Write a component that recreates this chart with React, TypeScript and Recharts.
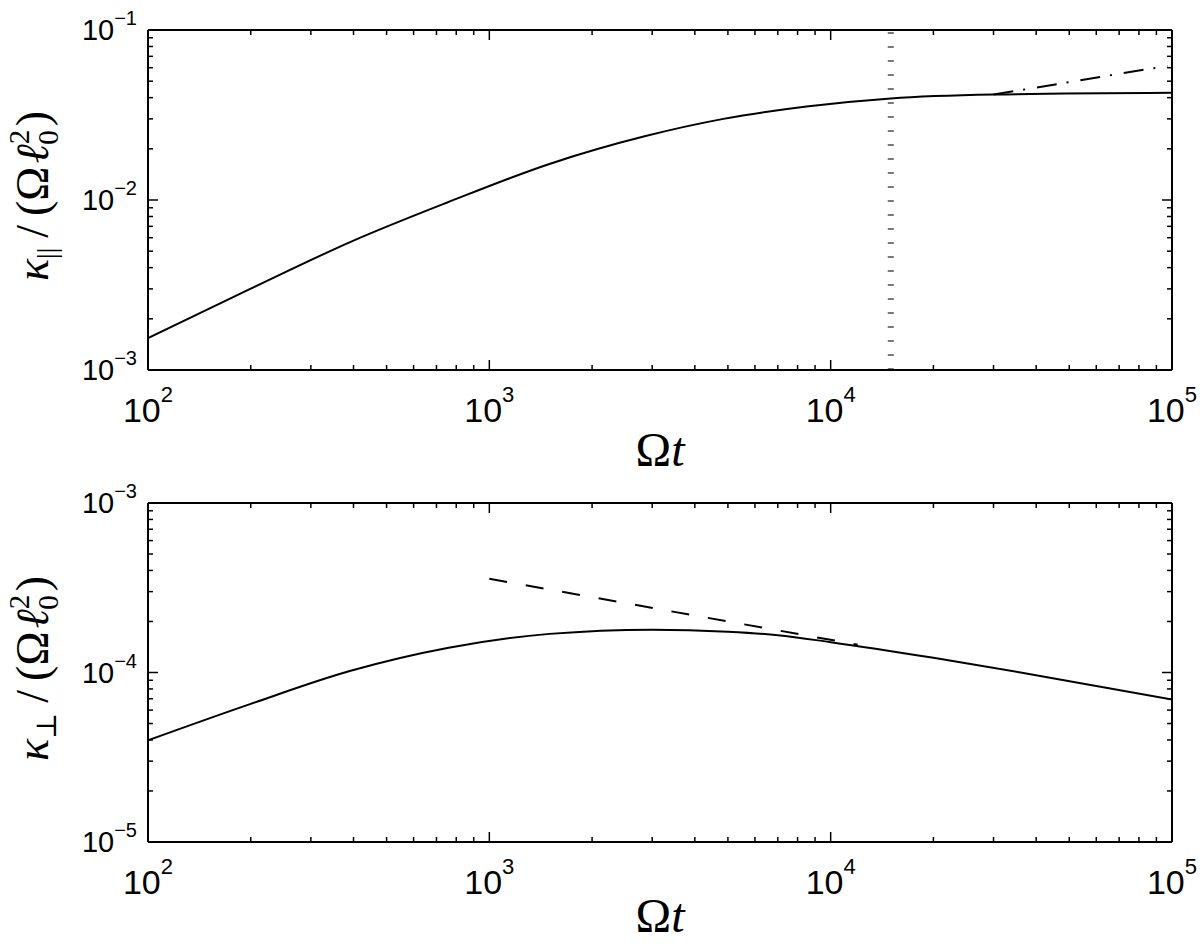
import { LineChart, Line, XAxis, YAxis, ReferenceLine } from 'recharts';

// tick values (log axes, decades + minor ticks)
const OMEGA_T_TICKS = [
  100, 200, 300, 400, 500, 600, 700, 800, 900,
  1000, 2000, 3000, 4000, 5000, 6000, 7000, 8000, 9000,
  10000, 20000, 30000, 40000, 50000, 60000, 70000, 80000, 90000,
  100000,
];
const PAR_TICKS = [
  0.001, 0.002, 0.003, 0.004, 0.005, 0.006, 0.007, 0.008, 0.009,
  0.01, 0.02, 0.03, 0.04, 0.05, 0.06, 0.07, 0.08, 0.09,
  0.1,
];
const PERP_TICKS = [
  1e-5, 2e-5, 3e-5, 4e-5, 5e-5, 6e-5, 7e-5, 8e-5, 9e-5,
  1e-4, 2e-4, 3e-4, 4e-4, 5e-4, 6e-4, 7e-4, 8e-4, 9e-4,
  1e-3,
];

// kappa_parallel
const PAR_T = [100, 200, 400, 750, 1500, 2850, 4850, 8500, 15000, 30000, 100000];
const PAR_K = [1.54e-3, 3.01e-3, 5.77e-3, 9.64e-3, 1.63e-2, 2.37e-2, 3.0e-2, 3.55e-2, 3.96e-2, 4.17e-2, 4.27e-2];
const PAR_FIT_T = [30000, 97000];
const PAR_FIT_K = [4.17e-2, 6.15e-2];
const PAR_MARK_T = 15000;

// kappa_perp
const PERP_T = [100, 200, 390, 760, 1500, 3000, 5000, 7000, 10000, 20000, 36000, 100000];
const PERP_K = [3.98e-5, 6.53e-5, 1.02e-4, 1.4e-4, 1.69e-4, 1.79e-4, 1.74e-4, 1.66e-4, 1.51e-4, 1.22e-4, 1.0e-4, 6.93e-5];
const PERP_FIT_T = [1000, 12000];
const PERP_FIT_K = [3.57e-4, 1.46e-4];

const toRows = (ts: number[], ks: number[]) => ts.map((t, i) => ({ t, k: ks[i] }));

const SANS = '"Liberation Sans", Arial, Helvetica, sans-serif';
const SERIF = '"Liberation Serif", "DejaVu Serif", "Times New Roman", serif';

const isDecade = (v: number) => Math.abs(Math.log10(v) - Math.round(Math.log10(v))) < 1e-6;
const expText = (v: number) => {
  const n = Math.round(Math.log10(v));
  return n < 0 ? `\u2212${-n}` : `${n}`;
};
const tickLen = (v: number) => (isDecade(v) ? 10 : 5);

const BottomTick = (props: any) => {
  const { x, y, payload } = props;
  const v = payload.value;
  return (
    <g>
      <line x1={x} y1={y} x2={x} y2={y - tickLen(v)} stroke="#000" strokeWidth={1.5} />
      {isDecade(v) && (
        <text x={x} y={y + 52} textAnchor="middle" fontFamily={SANS} fontSize={34} fill="#000">
          10<tspan dy={-20} fontSize={22}>{expText(v)}</tspan>
        </text>
      )}
    </g>
  );
};

const TopTick = (props: any) => {
  const { x, y, payload } = props;
  return <line x1={x} y1={y} x2={x} y2={y + tickLen(payload.value)} stroke="#000" strokeWidth={1.5} />;
};

const LeftTick = (props: any) => {
  const { x, y, payload } = props;
  const v = payload.value;
  return (
    <g>
      <line x1={x} y1={y} x2={x + tickLen(v)} y2={y} stroke="#000" strokeWidth={1.5} />
      {isDecade(v) && (
        <text x={x - 11} y={y + 10} textAnchor="end" fontFamily={SANS} fontSize={29} fill="#000">
          10<tspan dy={-15} fontSize={20}>{expText(v)}</tspan>
        </text>
      )}
    </g>
  );
};

const RightTick = (props: any) => {
  const { x, y, payload } = props;
  return <line x1={x} y1={y} x2={x - tickLen(payload.value)} y2={y} stroke="#000" strokeWidth={1.5} />;
};

const xTitle = (offset: number) => (props: any) => {
  const { viewBox } = props;
  return (
    <text
      x={viewBox.x + viewBox.width / 2}
      y={viewBox.y + offset}
      textAnchor="middle"
      fontFamily={SERIF}
      fontSize={48}
      fill="#000"
    >
      Ω<tspan fontStyle="italic">t</tspan>
    </text>
  );
};

const yTitle = (sub: string) => (props: any) => {
  const { viewBox } = props;
  const cx = 48;
  const cy = viewBox.y + viewBox.height / 2 - 4;
  return (
    <text
      x={cx}
      y={cy}
      transform={`rotate(-90 ${cx} ${cy})`}
      textAnchor="middle"
      fontFamily={SERIF}
      fontSize={46}
      fill="#000"
    >
      <tspan fontStyle="italic">κ</tspan>
      <tspan fontSize={28} dy={8}>{sub}</tspan>
      <tspan dy={-8} dx={10}>/</tspan>
      <tspan dx={9}>(Ω</tspan>
      <tspan fontStyle="italic" dx={3}>ℓ</tspan>
      <tspan fontSize={29} dy={-19}>2</tspan>
      <tspan fontSize={29} dx={-15} dy={29}>0</tspan>
      <tspan dy={-10} dx={4}>)</tspan>
    </text>
  );
};

const axisLine = { stroke: '#000', strokeWidth: 2 };
const X_DOMAIN = [100, 100000];

export default function App() {
  const parRows = toRows(PAR_T, PAR_K);
  const parFit = toRows(PAR_FIT_T, PAR_FIT_K);
  const perpRows = toRows(PERP_T, PERP_K);
  const perpFit = toRows(PERP_FIT_T, PERP_FIT_K);

  // axes are 1px thick so recharts still draws them; margins make up the rest
  const xAxes = (titleOffset: number) => [
    <XAxis
      key="xb"
      dataKey="t"
      type="number"
      scale="log"
      domain={X_DOMAIN}
      ticks={OMEGA_T_TICKS}
      interval={0}
      allowDataOverflow
      height={1}
      tickSize={0}
      tickMargin={0}
      tickLine={false}
      axisLine={axisLine}
      tick={<BottomTick />}
      label={xTitle(titleOffset)}
    />,
    <XAxis
      key="xt"
      xAxisId="top"
      orientation="top"
      dataKey="t"
      type="number"
      scale="log"
      domain={X_DOMAIN}
      ticks={OMEGA_T_TICKS}
      interval={0}
      allowDataOverflow
      height={1}
      tickSize={0}
      tickMargin={0}
      tickLine={false}
      axisLine={axisLine}
      tick={<TopTick />}
    />,
  ];

  const yAxes = (domain: number[], ticks: number[], sub: string) => [
    <YAxis
      key="yl"
      dataKey="k"
      type="number"
      scale="log"
      domain={domain}
      ticks={ticks}
      interval={0}
      allowDataOverflow
      width={1}
      tickSize={0}
      tickMargin={0}
      tickLine={false}
      axisLine={axisLine}
      tick={<LeftTick />}
      label={yTitle(sub)}
    />,
    <YAxis
      key="yr"
      yAxisId="right"
      orientation="right"
      dataKey="k"
      type="number"
      scale="log"
      domain={domain}
      ticks={ticks}
      interval={0}
      allowDataOverflow
      width={1}
      tickSize={0}
      tickMargin={0}
      tickLine={false}
      axisLine={axisLine}
      tick={<RightTick />}
    />,
  ];

  return (
    <div style={{ position: 'absolute', left: 0, top: 0, width: 1200, height: 944, background: '#fff', overflow: 'hidden' }}>
      {/* kappa parallel */}
      <div style={{ position: 'absolute', left: 0, top: 0 }}>
        <LineChart width={1200} height={484} margin={{ top: 29, right: 27, bottom: 113, left: 147 }}>
          {xAxes(96)}
          {yAxes([0.001, 0.1], PAR_TICKS, '||')}
          <ReferenceLine x={PAR_MARK_T} stroke="#777" strokeWidth={6} strokeDasharray="2 12" />
          <Line
            data={parRows}
            dataKey="k"
            type="monotone"
            stroke="#000"
            strokeWidth={2}
            dot={false}
            activeDot={false}
            isAnimationActive={false}
          />
          <Line
            data={parFit}
            dataKey="k"
            type="linear"
            stroke="#000"
            strokeWidth={2}
            strokeDasharray="20 10 2 12"
            dot={false}
            activeDot={false}
            isAnimationActive={false}
          />
        </LineChart>
      </div>

      {/* kappa perp */}
      <div style={{ position: 'absolute', left: 0, top: 472 }}>
        <LineChart width={1200} height={472} margin={{ top: 30, right: 27, bottom: 101, left: 147 }}>
          {xAxes(90)}
          {yAxes([1e-5, 1e-3], PERP_TICKS, '⊥')}
          <Line
            data={perpRows}
            dataKey="k"
            type="monotone"
            stroke="#000"
            strokeWidth={2}
            dot={false}
            activeDot={false}
            isAnimationActive={false}
          />
          <Line
            data={perpFit}
            dataKey="k"
            type="linear"
            stroke="#000"
            strokeWidth={2}
            strokeDasharray="18 19"
            dot={false}
            activeDot={false}
            isAnimationActive={false}
          />
        </LineChart>
      </div>
    </div>
  );
}
